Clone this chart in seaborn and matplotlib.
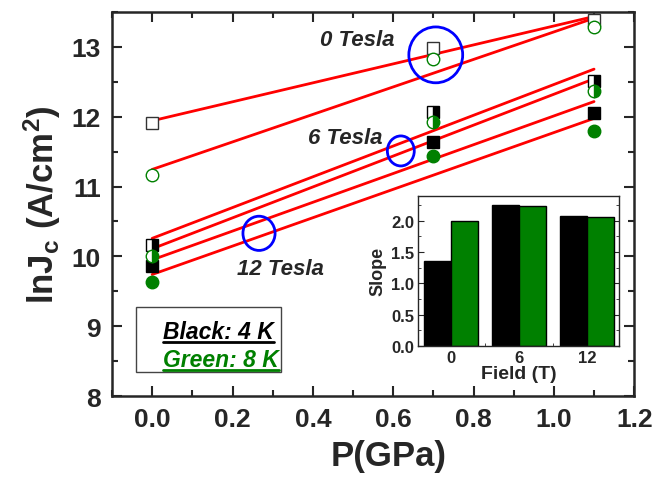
import numpy as np
import pandas as pd
import matplotlib
matplotlib.use("Agg")
import matplotlib.pyplot as plt
from matplotlib.patches import Ellipse, Rectangle
from matplotlib.lines import Line2D
from matplotlib.ticker import MultipleLocator
import seaborn as sns

# data
pressure = [0.0, 0.7, 1.1]
jc_0T_4K = [11.91, 12.98, 13.38]
jc_0T_8K = [11.17, 12.83, 13.28]
jc_6T_4K = [10.16, 12.07, 12.51]
jc_6T_8K = [10.01, 11.93, 12.37]
jc_12T_4K = [9.86, 11.64, 12.06]
jc_12T_8K = [9.64, 11.44, 11.80]

fields = ["0", "6", "12"]
slope_4K = [1.35, 2.25, 2.07]
slope_8K = [2.00, 2.23, 2.055]

sns.set_style("ticks")
plt.rcParams["font.family"] = ["Liberation Sans", "DejaVu Sans"]
plt.rcParams["font.weight"] = "bold"
plt.rcParams["mathtext.fontset"] = "custom"
plt.rcParams["mathtext.rm"] = "Liberation Sans:bold"
plt.rcParams["mathtext.bf"] = "Liberation Sans:bold"
plt.rcParams["mathtext.it"] = "Liberation Sans:bold:italic"

GREEN = "#008000"

fig = plt.figure(figsize=(6.69, 4.81), dpi=100)
ax = fig.add_axes([0.1674, 0.1746, 0.7806, 0.7984])

# fitted lines
for yv in [jc_0T_4K, jc_0T_8K, jc_6T_4K, jc_6T_8K, jc_12T_4K, jc_12T_8K]:
    sns.regplot(x=pressure, y=yv, ax=ax, scatter=False, ci=None, truncate=True,
                line_kws=dict(color="red", lw=2.0, zorder=2))

# markers
ms = 9
ax.plot(pressure, jc_0T_4K, ls="none", marker="s", ms=ms, mfc="white", mec="#333333", mew=1, zorder=3)
ax.plot(pressure, jc_0T_8K, ls="none", marker="o", ms=ms, mfc="white", mec=GREEN, mew=1, zorder=3)
ax.plot(pressure, jc_6T_4K, ls="none", marker="s", ms=ms, fillstyle="right", mfc="black",
        mfcalt="white", mec="black", mew=1, zorder=3)
ax.plot(pressure, jc_6T_8K, ls="none", marker="o", ms=ms, fillstyle="right", mfc=GREEN,
        mfcalt="white", mec=GREEN, mew=1, zorder=4)
ax.plot(pressure, jc_12T_4K, ls="none", marker="s", ms=ms, mfc="black", mec="black", mew=1, zorder=3)
ax.plot(pressure, jc_12T_8K, ls="none", marker="o", ms=ms, mfc=GREEN, mec=GREEN, mew=1, zorder=3)

ax.set_xlim(-0.1, 1.2)
ax.set_ylim(8, 13.5)
ax.xaxis.set_major_locator(MultipleLocator(0.2))
ax.xaxis.set_minor_locator(MultipleLocator(0.1))
ax.yaxis.set_major_locator(MultipleLocator(1))
ax.yaxis.set_minor_locator(MultipleLocator(0.5))
ax.tick_params(which="both", direction="in", top=True, right=True, width=1.5)
ax.tick_params(which="major", length=7, labelsize=19, pad=8)
ax.tick_params(which="minor", length=4)
ax.tick_params(axis="x", which="both", labeltop=False)
for s in ax.spines.values():
    s.set_linewidth(1.8)
    s.set_visible(True)
for lab in ax.get_xticklabels() + ax.get_yticklabels():
    lab.set_fontweight("bold")

ax.set_xlabel("P(GPa)", fontsize=25, fontweight="bold", x=0.53, labelpad=6)
ax.set_ylabel(r"$\mathbf{lnJ_c\ (A/cm^2)}$", fontsize=25, labelpad=6)

# field labels and circles
ax.text(0.418, 13.11, "0 Tesla", fontsize=16, fontweight="bold", style="italic", va="center")
ax.text(0.388, 11.70, "6 Tesla", fontsize=16, fontweight="bold", style="italic", va="center")
ax.text(0.211, 9.83, "12 Tesla", fontsize=16, fontweight="bold", style="italic", va="center")
for cx, cy, w, h in [(0.706, 12.886, 0.134, 0.80), (0.619, 11.51, 0.067, 0.43), (0.266, 10.33, 0.08, 0.49)]:
    ax.add_patch(Ellipse((cx, cy), w, h, fill=False, ec="blue", lw=2, zorder=5))

# legend box
ax.add_patch(Rectangle((0.046, 0.0625), 0.278, 0.169, transform=ax.transAxes,
                       fill=False, ec="#444444", lw=1, zorder=5))
t1 = ax.text(0.098, 0.169, "Black: 4 K", transform=ax.transAxes, fontsize=16.5,
             fontweight="bold", style="italic", va="center", color="black")
t2 = ax.text(0.098, 0.096, "Green: 8 K", transform=ax.transAxes, fontsize=16.5,
             fontweight="bold", style="italic", va="center", color=GREEN)

# inset
slopes = pd.DataFrame({
    "Field": fields * 2,
    "Slope": slope_4K + slope_8K,
    "T": ["4 K"] * 3 + ["8 K"] * 3,
})
ins = fig.add_axes([0.625, 0.279, 0.300, 0.312])
sns.barplot(data=slopes, x="Field", y="Slope", hue="T", palette=["black", GREEN],
            saturation=1, edgecolor="black", linewidth=1, ax=ins, legend=False)
ins.set_xlim(-0.48, 2.47)
ins.set_ylim(0, 2.4)
ins.yaxis.set_major_locator(MultipleLocator(0.5))
ins.yaxis.set_minor_locator(MultipleLocator(0.25))
ins.set_xticks([0.5, 1.5], minor=True)
ins.tick_params(which="both", direction="in", right=True, labelsize=12, pad=3)
ins.tick_params(which="major", length=4)
ins.tick_params(which="minor", length=2)
ins.tick_params(axis="x", which="major", length=0)
for s in ins.spines.values():
    s.set_visible(True)
    s.set_linewidth(1)
for lab in ins.get_xticklabels() + ins.get_yticklabels():
    lab.set_fontweight("bold")
ins.set_xlabel("Field (T)", fontsize=14, fontweight="bold", labelpad=0)
ins.set_ylabel("Slope", fontsize=13, fontweight="bold", labelpad=3)

# underline the legend texts
fig.canvas.draw()
r = fig.canvas.get_renderer()
for t, c in [(t1, "black"), (t2, GREEN)]:
    bb = t.get_window_extent(r)
    x0, y0 = fig.transFigure.inverted().transform((bb.x0, bb.y0 + 1))
    x1, _ = fig.transFigure.inverted().transform((bb.x1, bb.y0 + 1))
    fig.add_artist(Line2D([x0, x1], [y0, y0], color=c, lw=2, transform=fig.transFigure))

fig.savefig("out.png", dpi=100)
